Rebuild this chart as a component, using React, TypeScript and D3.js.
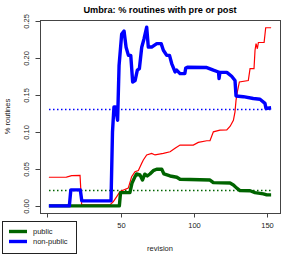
import React from "react";
import * as d3 from "d3";

// revision / share pairs
const nonPublicRev = [1, 15, 16, 22.5, 23.5, 43.5, 44.5, 45.5, 46.5, 48, 49, 50.8, 52.4, 53.8, 55.4, 57, 58.3, 60, 61.5, 62.9, 64.5, 66.1, 67.9, 69, 71.3, 74.8, 77.8, 79.3, 81.6, 83.5, 85, 87.3, 88.4, 90.7, 94, 94.6, 95.7, 109, 113.5, 117, 117.4, 118, 122.7, 126, 128.3, 129, 134, 140.8, 145.4, 148.8, 149.5, 153];
const nonPublicVal = [0, 0, 0.0216, 0.0216, 0.0068, 0.0068, 0.1, 0.134, 0.134, 0.116, 0.19, 0.233, 0.237, 0.215, 0.204, 0.204, 0.168, 0.17, 0.184, 0.186, 0.215, 0.2266, 0.2423, 0.2153, 0.2153, 0.22, 0.22, 0.211, 0.204, 0.204, 0.193, 0.1815, 0.184, 0.1793, 0.1793, 0.187, 0.188, 0.1875, 0.184, 0.1815, 0.1726, 0.181, 0.181, 0.1757, 0.17, 0.149, 0.148, 0.1455, 0.1445, 0.139, 0.132, 0.133];

const publicRev = [1, 49.2, 50, 56.4, 57.8, 59.9, 61, 63.3, 65, 66.6, 68.3, 70.1, 72.4, 74.7, 78.2, 79.7, 83.9, 88.5, 90.7, 111.2, 113.5, 124.9, 127.2, 129.5, 131.7, 138.6, 142, 147.7, 150, 153];
const publicVal = [0, 0, 0.018, 0.018, 0.0306, 0.0396, 0.0432, 0.042, 0.035, 0.043, 0.0405, 0.0432, 0.0477, 0.0496, 0.0496, 0.0432, 0.0405, 0.0388, 0.036, 0.035, 0.0315, 0.031, 0.0284, 0.024, 0.0207, 0.0205, 0.018, 0.0162, 0.0149, 0.0149];

const totalRev = [1, 13, 16.6, 22.3, 23.4, 42.8, 45.1, 47.4, 49.7, 55.3, 57.6, 59.9, 62.2, 64.5, 65.6, 67.9, 71.3, 73.6, 79.3, 83.9, 87.3, 90.7, 99.8, 103.2, 109, 111.2, 113.5, 118, 122.7, 125, 127.2, 128.3, 129, 129.9, 131.3, 137.4, 138.6, 141.3, 142, 142.7, 143.6, 144.3, 148.2, 149.3, 153];
const totalVal = [0.0388, 0.039, 0.041, 0.0414, 0.0014, 0.0014, 0.0059, 0.0126, 0.0194, 0.024, 0.0396, 0.0464, 0.048, 0.0577, 0.0622, 0.069, 0.0712, 0.069, 0.0712, 0.0734, 0.078, 0.0824, 0.0824, 0.086, 0.0883, 0.0883, 0.1004, 0.1027, 0.103, 0.108, 0.116, 0.1275, 0.143, 0.1545, 0.168, 0.17, 0.186, 0.186, 0.211, 0.22, 0.213, 0.2215, 0.2215, 0.2415, 0.2415];

const meanNonPublic = 0.1307;
const meanPublic = 0.0212;

const xTicks = [0, 50, 100, 150];
const yTicks = [0, 0.05, 0.1, 0.15, 0.2, 0.25];

const W = 294;
const H = 254;
const plot = { left: 40, right: 280, top: 20, bottom: 213 };

const font = "'Liberation Sans', Arial, sans-serif";

export default function App() {
  const xPad = (153 - 1) * 0.04;
  const x = d3.scaleLinear().domain([1 - xPad, 153 + xPad]).range([plot.left, plot.right]);
  const yMax = d3.max(totalVal.concat(nonPublicVal)) as number;
  const yPad = yMax * 0.04;
  const y = d3.scaleLinear().domain([-yPad, yMax + yPad]).range([plot.bottom, plot.top]);

  const path = (revs: number[], vals: number[]) =>
    d3.line<number>().x((d, i) => x(revs[i])).y((d) => y(d))(vals) || "";

  const first = Math.round(x(1));
  const last = Math.round(x(153));
  const crisp = (v: number) => Math.round(v) + 0.5;

  return (
    <div style={{ position: "absolute", left: 0, top: 0 }}>
      <svg width={W} height={H} style={{ display: "block", background: "#fff" }} fontFamily={font}>
        <text x={(plot.left + plot.right) / 2} y={13} textAnchor="middle" fontSize={9.2} fontWeight="bold">
          Umbra: % routines with pre or post
        </text>

        {/* mean lines */}
        <line x1={first} x2={last} y1={crisp(y(meanNonPublic))} y2={crisp(y(meanNonPublic))} stroke="#0000ff" strokeWidth={1.3} strokeDasharray="1.5,2.5" />
        <line x1={first} x2={last} y1={crisp(y(meanPublic))} y2={crisp(y(meanPublic))} stroke="#006400" strokeWidth={1.3} strokeDasharray="1.5,2.5" />

        <path d={path(totalRev, totalVal)} fill="none" stroke="#ff0000" strokeWidth={1.2} />
        <path d={path(publicRev, publicVal)} fill="none" stroke="#006400" strokeWidth={3.4} strokeLinejoin="round" />
        <path d={path(nonPublicRev, nonPublicVal)} fill="none" stroke="#0000ff" strokeWidth={3.4} strokeLinejoin="round" />

        <rect x={plot.left + 0.5} y={plot.top + 0.5} width={plot.right - plot.left} height={plot.bottom - plot.top} fill="none" stroke="#444" strokeWidth={1} />

        {/* x axis; the label at 0 sits under the legend box and is not shown */}
        {xTicks.map((t) => (
          <g key={"x" + t} transform={`translate(${crisp(x(t))},${plot.bottom})`}>
            <line y1={0} y2={4.5} stroke="#444" />
            {t > 0 && <text y={15} textAnchor="middle" fontSize={7.5} fill="#222">{t}</text>}
          </g>
        ))}
        {/* y axis */}
        {yTicks.map((t) => (
          <g key={"y" + t} transform={`translate(${plot.left},${crisp(y(t))})`}>
            <line x1={0} x2={-4.5} stroke="#444" />
            <text transform="translate(-11,0) rotate(-90)" textAnchor="middle" fontSize={7.5} fill="#222">{t.toFixed(2)}</text>
          </g>
        ))}

        <text x={(plot.left + plot.right) / 2} y={251} textAnchor="middle" fontSize={7.5} fill="#222">revision</text>
        <text transform={`translate(10,${(plot.top + plot.bottom) / 2}) rotate(-90)`} textAnchor="middle" fontSize={7.5} fill="#222">% routines</text>

        {/* legend */}
        <g>
          <rect x={2.5} y={221.5} width={74} height={32} fill="#fff" stroke="#222" strokeWidth={1} />
          <line x1={9} x2={27} y1={231.5} y2={231.5} stroke="#006400" strokeWidth={3.4} />
          <line x1={9} x2={27} y1={241.5} y2={241.5} stroke="#0000ff" strokeWidth={3.4} />
          <text x={33} y={234.3} fontSize={7.5} fill="#222">public</text>
          <text x={33} y={244.3} fontSize={7.5} fill="#222">non-public</text>
        </g>
      </svg>
    </div>
  );
}
